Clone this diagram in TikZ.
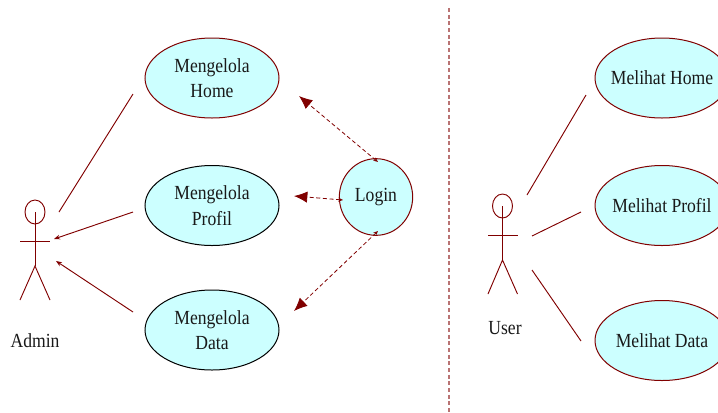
\documentclass[tikz,border=0pt]{standalone}
\usepackage{fontspec}
\setmainfont[FakeStretch=0.88]{Liberation Serif}
\usetikzlibrary{shapes.geometric,arrows.meta}
\definecolor{garis}{RGB}{128,0,0}
\definecolor{isi}{RGB}{204,255,255}
\tikzset{
	usecase/.style={draw=garis, fill=isi, ellipse, line width=0.75pt, inner sep=-6pt, minimum width=100.5pt, minimum height=60pt, align=center, font=\fontsize{15pt}{19pt}\selectfont, text=black!90},
	usecasehitam/.style={usecase, draw=black},
	aktor/.style={draw=garis, line width=0.7pt},
	aktorlabel/.style={inner sep=0pt, font=\fontsize{15pt}{19pt}\selectfont, text=black!90},
	relasi/.style={draw=garis, line width=0.7pt},
	relasipanah/.style={relasi, -{Stealth[length=4.5pt,width=3.5pt]}},
	include/.style={draw=garis, line width=0.6pt, densely dashed, {Stealth[open,length=3.5pt,width=3pt]}-{Latex[length=10pt,width=8.5pt]}}
}
\begin{document}
\begin{tikzpicture}[x=0.75pt,y=-0.75pt]
	\useasboundingbox (0,0) rectangle (718,412);
	% pembatas
	\coordinate (batasatas) at (449,8);
	\coordinate (batasbawah) at (449,412);
	\draw[garis!55, line width=0.9pt, densely dashed] (batasatas) -- (batasbawah);

	% use case admin
	\node[usecase] (home) at (212,78) {Mengelola\\Home};
	\node[usecasehitam] (profil) at (212,205.5) {Mengelola\\Profil};
	\node[usecasehitam] (data) at (212,330) {Mengelola\\Data};
	\node[usecase, minimum width=55pt, minimum height=57.5pt] (login) at (376,197) {Login};

	% use case user
	\node[usecase] (lihathome) at (662,78) {Melihat Home};
	\node[usecase] (lihatprofil) at (662,205.5) {Melihat Profil};
	\node[usecase] (lihatdata) at (662,340.5) {Melihat Data};

	% aktor admin
	\node[aktor, ellipse, inner sep=0pt, minimum width=15pt, minimum height=18pt] (kepalaadmin) at (35,212) {};
	\coordinate (leheradmin) at (35,212);
	\coordinate (pinggul) at (35,266);
	\coordinate (tanganki) at (20,241);
	\coordinate (tanganka) at (50,241);
	\coordinate (kakiki) at (20,300);
	\coordinate (kakika) at (50,300);
	\draw[aktor] (leheradmin) -- (pinggul);
	\draw[aktor] (tanganki) -- (tanganka);
	\draw[aktor] (kakiki) -- (pinggul) -- (kakika);
	\node[aktorlabel] (admin) at (35,341) {Admin};

	% aktor user
	\node[aktor, ellipse, inner sep=0pt, minimum width=15pt, minimum height=18pt] (kepalauser) at (502.5,206) {};
	\coordinate (leheruser) at (502.5,206);
	\coordinate (pinggulu) at (502.5,260);
	\coordinate (tangankiu) at (488,235.5);
	\coordinate (tangankau) at (518,235.5);
	\coordinate (kakikiu) at (488,294);
	\coordinate (kakikau) at (517.5,294);
	\draw[aktor] (leheruser) -- (pinggulu);
	\draw[aktor] (tangankiu) -- (tangankau);
	\draw[aktor] (kakikiu) -- (pinggulu) -- (kakikau);
	\node[aktorlabel] (user) at (505,328) {User};

	% relasi admin
	\coordinate (a1) at (133,94);
	\coordinate (a2) at (59,212);
	\coordinate (b1) at (133,212);
	\coordinate (b2) at (54,239);
	\coordinate (c1) at (133,312);
	\coordinate (c2) at (56,261);
	\draw[relasi] (a1) -- (a2);
	\draw[relasipanah] (b1) -- (b2);
	\draw[relasipanah] (c1) -- (c2);

	% relasi user
	\coordinate (d1) at (586,95);
	\coordinate (d2) at (527,195);
	\coordinate (e1) at (581,212);
	\coordinate (e2) at (532,236);
	\coordinate (f1) at (581,341);
	\coordinate (f2) at (532,270);
	\draw[relasi] (d1) -- (d2);
	\draw[relasi] (e1) -- (e2);
	\draw[relasi] (f1) -- (f2);

	% relasi login
	\coordinate (g1) at (378,162);
	\coordinate (g2) at (299,96);
	\coordinate (h1) at (343,200);
	\coordinate (h2) at (294,196);
	\coordinate (i1) at (378,231);
	\coordinate (i2) at (294,311);
	\draw[include] (g1) -- (g2);
	\draw[include] (h1) -- (h2);
	\draw[include] (i1) -- (i2);
\end{tikzpicture}
\end{document}
